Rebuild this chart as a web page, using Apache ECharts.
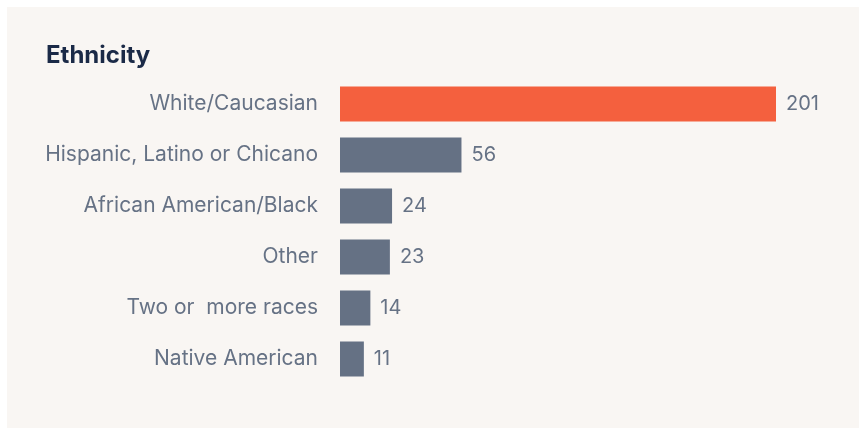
<!DOCTYPE html>
<html><head><meta charset="utf-8">
<script src="https://cdn.jsdelivr.net/npm/echarts@6/dist/echarts.min.js"></script>
<style>html,body{margin:0;padding:0;background:#fff}#c{width:859px;height:433px}</style>
</head><body><div id="c"></div>
<script>
const categories = ["White/Caucasian","Hispanic, Latino or Chicano","African American/Black","Other","Two or  more races","Native American"];
const values = [201,56,24,23,14,11];
const highlight = [true,false,false,false,false,false];

const chart = echarts.init(document.getElementById('c'));
chart.setOption({
  backgroundColor: '#ffffff',
  graphic: [{type:'rect', shape:{x:7,y:7,width:852,height:421}, style:{fill:'#f9f6f3'}, z:-10}],
  title: {text:'Ethnicity', left:41, top:39, textStyle:{fontFamily:'Inter', fontWeight:'bold', fontSize:24, color:'#1b2a47'}},
  grid: {left:340, right:83, top:78.5, height:306},
  xAxis: {type:'value', min:0, max:201, show:false},
  yAxis: {type:'category', inverse:true, data:categories,
    axisLine:{show:false}, axisTick:{show:false},
    axisLabel:{margin:22, fontFamily:'Inter', fontSize:21, color:'#667285'}},
  series: [{type:'bar', barWidth:35, animation:false,
    data: values.map((v,i)=>({value:v, itemStyle:{color: highlight[i] ? '#f4603e' : '#657184'}})),
    label:{show:true, position:'right', distance:10, fontFamily:'Inter', fontSize:20, color:'#667285'}}]
});
</script></body></html>
